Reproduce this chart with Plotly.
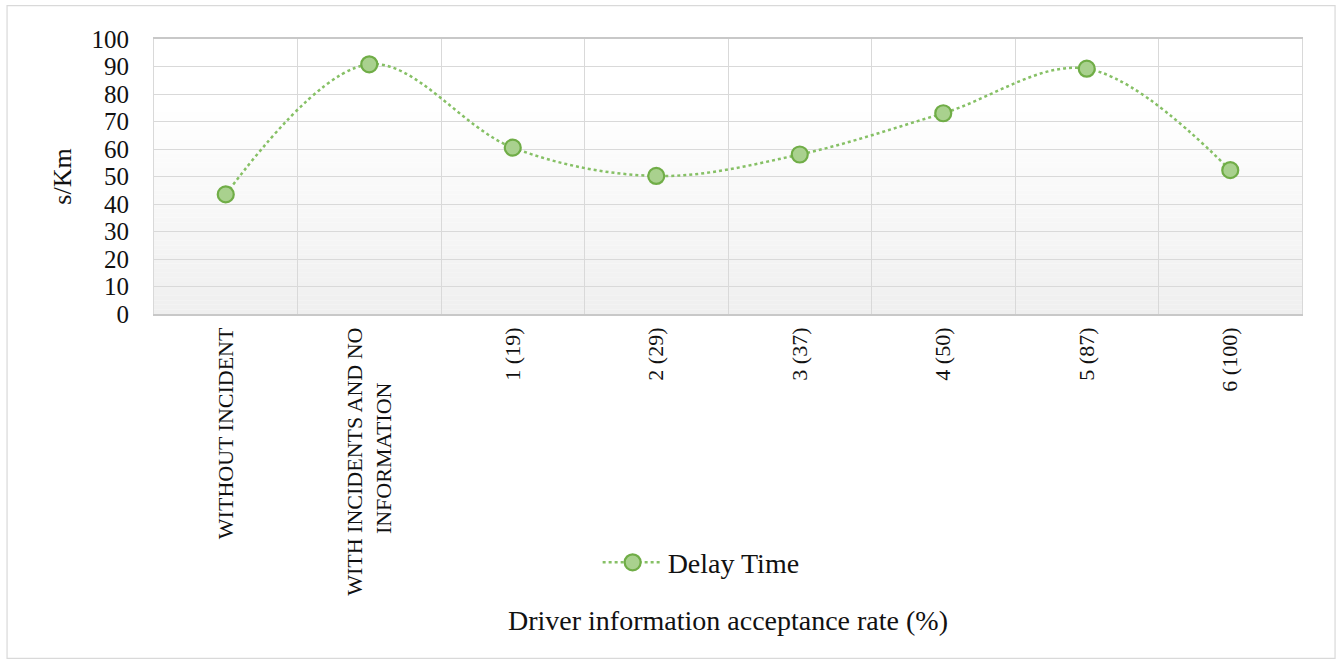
import plotly.graph_objects as go

categories = ["WITHOUT INCIDENT",
              "WITH INCIDENTS AND NO<br>INFORMATION" + "\u00a0" * 10,
              "1 (19)", "2 (29)", "3 (37)", "4 (50)", "5 (87)", "6 (100)"]
delay_time = [43.5, 90.8, 60.5, 50.2, 58.0, 73.0, 89.2, 52.3]
y_ticks = list(range(0, 101, 10))

FONT = "Liberation Serif, Times New Roman, serif"

fig = go.Figure()
fig.add_trace(go.Scatter(
    x=categories, y=delay_time, name="Delay Time",
    mode="lines+markers",
    line=dict(color="#86c065", width=2.5, dash="dot", shape="spline", smoothing=1.0),
    marker=dict(size=16, color="#a9d18e", line=dict(color="#70ad47", width=2.2)),
))

# background gradient for the plot area (white top -> light gray bottom)
shapes = []
n = 60
for i in range(n):
    y0 = i / n
    y1 = (i + 1) / n
    t = max(0.0, 1 - ((y0 + y1) / 2) / 0.75)
    v = int(round(255 - t * 16))
    shapes.append(dict(type="rect", xref="paper", yref="paper", x0=0, x1=1, y0=y0, y1=y1,
                       fillcolor=f"rgb({v},{v},{v})", line=dict(width=0), layer="below"))
# outer chart border
shapes.append(dict(type="rect", xref="paper", yref="paper", x0=-0.128, x1=1.0288,
                   y0=-1.2523, y1=1.1216, line=dict(color="#d9d9d9", width=1.2),
                   fillcolor="rgba(0,0,0,0)", layer="below"))

fig.update_layout(
    width=1336, height=661,
    margin=dict(l=154, r=34, t=39, b=347, autoexpand=False),
    paper_bgcolor="white", plot_bgcolor="rgba(0,0,0,0)",
    font=dict(family=FONT, color="#111111"),
    shapes=shapes,
    showlegend=True,
    legend=dict(orientation="h", x=0.4766, xanchor="center", y=-0.904, yanchor="middle",
                font=dict(size=28, family=FONT), bgcolor="rgba(0,0,0,0)", itemwidth=60),
    xaxis=dict(
        type="category", range=[-0.5, 7.5], tickson="boundaries",
        tickangle=-90, tickfont=dict(size=22, family=FONT),
        showgrid=True, gridcolor="#d9d9d9", gridwidth=1,
        showline=True, linecolor="#c8c8c8", linewidth=1.5, mirror=True,
        ticks="", ticklabelstandoff=3,
        title=dict(text="Driver information acceptance rate (%)",
                   font=dict(size=28, family=FONT), standoff=16),
    ),
    yaxis=dict(
        range=[0, 100], tickvals=y_ticks, ticks="",
        tickfont=dict(size=25, family=FONT),
        showgrid=True, gridcolor="#d9d9d9", gridwidth=1,
        showline=True, linecolor="#d9d9d9", linewidth=1, mirror=True,
        zeroline=False, ticklabelstandoff=19,
        title=dict(text="s/Km", font=dict(size=26, family=FONT), standoff=12),
    ),
)

fig.write_html("out.html", config={"displayModeBar": False},
               post_script="document.body.style.margin='0';document.body.style.padding='0';")
